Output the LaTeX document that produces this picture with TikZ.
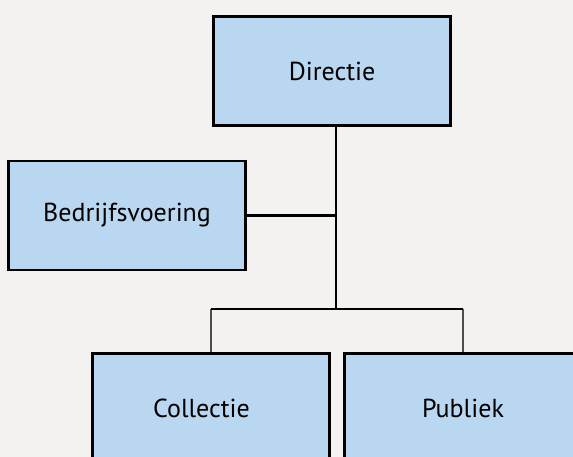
\documentclass[tikz,border=0pt]{standalone}
\usepackage{fontspec}
\setmainfont{PT Sans}
\definecolor{paper}{RGB}{243,242,240}
\definecolor{unitblue}{RGB}{185,215,240}
\definecolor{linkgray}{RGB}{78,78,78}
\tikzset{
    unitfont/.style={font=\fontsize{26}{30}\selectfont},
    unit/.style={draw=black, line width=2.4pt, fill=unitblue, inner sep=0pt,
        minimum width=237pt, minimum height=109pt, unitfont},
    wire/.style={draw=black, line width=2.4pt},
    twig/.style={draw=linkgray, line width=2.4pt}
}
\begin{document}
\begin{tikzpicture}[x=1pt, y=-1pt]
    \useasboundingbox (0, 0) rectangle (573, 457);
    \clip (0, 0) rectangle (573, 457);
    \fill[paper] (0, 0) rectangle (573, 457);
    %\draw[lightgray] (0, 0) grid[step=50] (573, 457);
    \node[unit] (directie) at (332, 71) {Directie};
    \node[unit] (bedrijf) at (127, 215.5) {Bedrijfsvoering};
    \node[unit] (collectie) at (211, 408) {};
    \node at ([xshift=-9.5pt]collectie.center) [unitfont] (collectietxt) {Collectie};
    \node[unit] (publiek) at (463, 408) {Publiek};
    \coordinate (stem) at (336, 309);  % stem sits a bit right of the box centre
    \draw[wire] (directie.south -| stem) -- (stem);
    \draw[wire] (bedrijf.east) -- (bedrijf.east -| stem);
    \draw[twig] (collectie.north) -- (collectie.north |- stem);
    \draw[twig] (publiek.north) -- (publiek.north |- stem);
    \draw[wire] (collectie.north |- stem) -- (publiek.north |- stem);
\end{tikzpicture}
\end{document}
